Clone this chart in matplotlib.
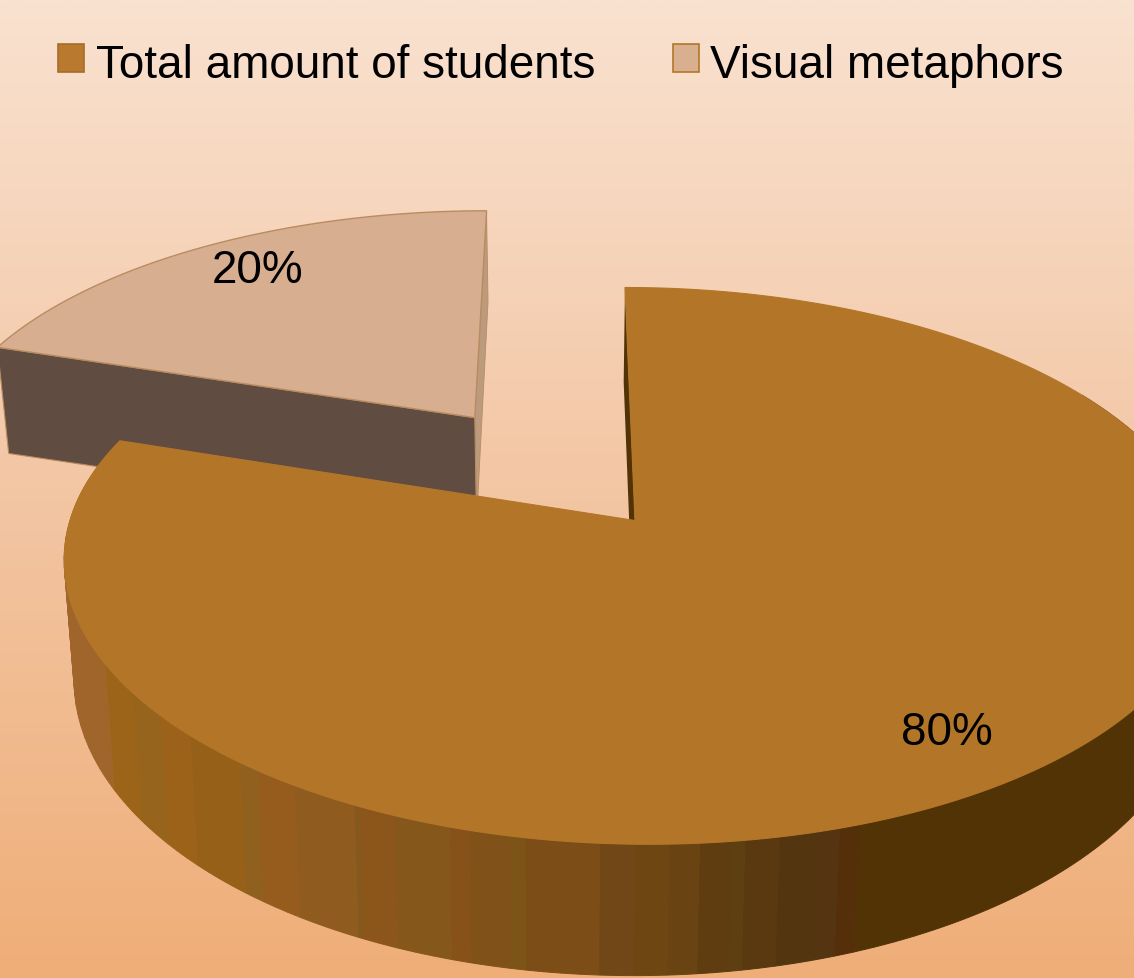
import numpy as np
import matplotlib
matplotlib.use("Agg")
import matplotlib.pyplot as plt
from matplotlib.colors import LinearSegmentedColormap
from matplotlib.patches import Patch, Polygon, Rectangle
from matplotlib.legend_handler import HandlerPatch

# --- data ---
categories = ["Total amount of students", "Visual metaphors"]
shares = [80, 20]
exploded = [0.0, 0.5]

# --- style ---
W, H = 1134, 979
top_colors = ["#B37628", "#D8AE90"]
legend_colors = ["#B97A2F", "#D8B090"]
legend_edges = ["#A66C28", "#B37628"]
slice_edge = "#B98C60"
flat_wall = "#604C40"
back_wall_big = "#523306"
back_wall_small = "#BC9A7E"
band_limits = [105, 133, 160, 190, 240, 258, 295, 355, 360, 395, 450, 470, 510,
               525, 600, 635, 670, 700, 733, 745, 780, 815, 840, 860]
band_colors = ["#A0652A", "#9C6419", "#96641C", "#9D6219", "#966019", "#8F601E",
               "#955C1D", "#8F5B1F", "#85591E", "#8C561B", "#85571A", "#87511A",
               "#80521A", "#7D5417", "#7D4D17", "#714717", "#6E4612", "#6A4312",
               "#5F3D10", "#5E3F12", "#5A3810", "#533510", "#553412", "#552F0A",
               "#523306"]

# projection of the tilted disc
CX, CY, RX, RY, PERSP, SHEAR, DEPTH = 635, 521.5, 565, 271, 0.163, 0.043, 110
BOT_XC, BOT_XS, DEPTH_TILT = 560, 0.98, 0.012


def project(u, v, bottom=False):
    u, v = np.asarray(u, float), np.asarray(v, float)
    f = 1 / (1 + PERSP * v)
    yup = RY * v * f
    x = CX + RX * u * f - SHEAR * yup
    y = CY - yup
    if bottom:
        y = y + DEPTH * f + (CX - x) * DEPTH_TILT
        x = BOT_XC + (x - BOT_XC) * BOT_XS
    return x, y


def disc(theta_deg, r=1.0, expl=0.0, mid_deg=0.0):
    t, m = np.radians(theta_deg), np.radians(mid_deg)
    return expl * np.sin(m) + r * np.sin(t), expl * np.cos(m) + r * np.cos(t)


def outline(a0, a1, expl, mid):
    th = np.linspace(a0, a1, 240)
    u, v = disc(th, 1.0, expl, mid)
    u0, v0 = disc(mid, 0.0, expl, mid)
    return np.column_stack(project(np.r_[u0, u], np.r_[v0, v]))


def radial_wall(ax, a, expl, mid, color, z, edge=None, lw=0.0):
    ua, va = disc(a, 0.0, expl, mid)
    ub, vb = disc(a, 1.0, expl, mid)
    xt, yt = project([ua, ub], [va, vb])
    xb, yb = project([ub, ua], [vb, va], bottom=True)
    pts = np.column_stack([np.r_[xt, xb], np.r_[yt, yb]])
    ax.add_patch(Polygon(pts, closed=True, fc=color, ec=edge or color, lw=lw, zorder=z))


def rim_wall(ax, a, b, color, z):
    # short convex pieces, so the strip stays filled where the rim turns back
    cuts = np.linspace(a, b, int(np.ceil((b - a) / 2.0)) + 1)
    for c0, c1 in zip(cuts[:-1], cuts[1:]):
        th = np.linspace(c0, c1, 6)
        u, v = disc(th)
        xt, yt = project(u, v)
        xb, yb = project(u[::-1], v[::-1], bottom=True)
        pts = np.column_stack([np.r_[xt, xb], np.r_[yt, yb]])
        ax.add_patch(Polygon(pts, closed=True, fc=color, ec=color, lw=0.7, zorder=z))


def lowered_swatch(legend, orig_handle, xdescent, ydescent, width, height, fontsize):
    return Rectangle((-xdescent, -ydescent + 2.2), width, height)


fig = plt.figure(figsize=(W / 100, H / 100), dpi=100)
ax = fig.add_axes([0, 0, 1, 1])
ax.set_xlim(0, W)
ax.set_ylim(H, 0)
ax.axis("off")

cmap = LinearSegmentedColormap.from_list(
    "bg", [(0, "#F9E2D0"), (0.5, "#F3C6A4"), (1, "#EFAE78")])
ax.imshow(np.linspace(0, 1, 512)[:, None], cmap=cmap, extent=(0, W, H, 0),
          aspect="auto", zorder=0, vmin=0, vmax=1)

# angles: clockwise from the back, big slice from 0 to share*3.6
span_big = shares[0] * 3.6
span_small = shares[1] * 3.6
a_big = (0.0, span_big)
a_small = (span_big, span_big + span_small)
mid_small = a_small[0] + span_small / 2

# exploded small slice
e = exploded[1]
radial_wall(ax, a_small[1], e, mid_small, back_wall_small, 2, slice_edge, 0.6)
radial_wall(ax, a_small[0], e, mid_small, flat_wall, 3, slice_edge, 0.8)
ax.add_patch(Polygon(outline(a_small[0], a_small[1], e, mid_small), closed=True,
                     fc=top_colors[1], ec=slice_edge, lw=1.0, zorder=4))

# big slice walls: one group of pieces for each colour band on the rim
radial_wall(ax, 0, 0, 0, back_wall_big, 5)
th = np.arange(60, span_big + 0.05, 0.1)
xm, _ = project(*disc(th))
band_idx = np.searchsorted(band_limits, xm)
start = 0
for i in range(1, len(th) + 1):
    if i == len(th) or band_idx[i] != band_idx[start]:
        rim_wall(ax, th[start], th[min(i, len(th) - 1)], band_colors[band_idx[start]], 5)
        start = i

ax.add_patch(Polygon(outline(a_big[0], a_big[1], 0, 0), closed=True,
                     fc=top_colors[0], ec=top_colors[0], lw=0.8, zorder=6))

# percentage labels
label_angles = [145.5, mid_small + 1.5]
label_radii = [0.84, 0.83]
for val, ang, rad, expl in zip(shares, label_angles, label_radii, exploded):
    x, y = project(*disc(ang, rad, expl, mid_small))
    ax.text(x, y, f"{val}%", fontsize=33, family="Liberation Sans", color="black",
            ha="center", va="center", zorder=8)

# legend
handles = [Patch(fc=c, ec=ec, lw=1.2) for c, ec in zip(legend_colors, legend_edges)]
ax.legend(handles, categories, ncol=2, loc="upper left", frameon=False,
          bbox_to_anchor=(58 / W, 1 - 44 / H), bbox_transform=ax.transAxes,
          borderaxespad=0, borderpad=0, handlelength=0.57, handleheight=0.57,
          handletextpad=0.25, columnspacing=1.7,
          handler_map={Patch: HandlerPatch(patch_func=lowered_swatch)},
          prop={"family": "Liberation Sans", "size": 33}, labelcolor="black")

fig.savefig("out.png", dpi=100)
